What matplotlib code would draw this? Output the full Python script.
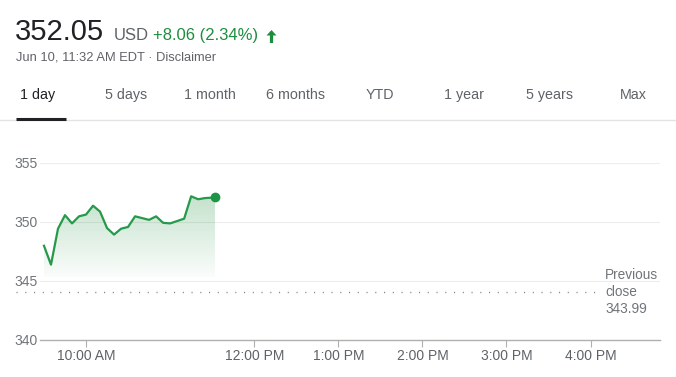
#!/usr/bin/env python3
"""
Intraday price chart, Google-finance style card (1 day view).
"""

import numpy as np
import matplotlib.pyplot as plt
from matplotlib.lines import Line2D
from matplotlib.patches import Polygon
from matplotlib.transforms import IdentityTransform

plt.rcParams['font.family'] = ['Liberation Sans', 'DejaVu Sans']

# Data
times = ['09:30', '09:35', '09:40', '09:45', '09:50', '09:55', '10:00', '10:05',
         '10:10', '10:15', '10:20', '10:25', '10:30', '10:35', '10:40', '10:45',
         '10:50', '10:55', '11:00', '11:05', '11:10', '11:15', '11:20', '11:25',
         '11:32']
prices = [347.95, 346.35, 349.40, 350.55, 349.85, 350.45, 350.60, 351.35,
          350.85, 349.45, 348.90, 349.40, 349.55, 350.45, 350.30, 350.15,
          350.45, 349.90, 349.85, 350.05, 350.25, 352.15, 351.90, 352.00,
          352.05]
prev_close = 343.99
y_ticks = [340, 345, 350, 355]
x_tick_hours = [10, 12, 13, 14, 15, 16]
x_tick_labels = ['10:00 AM', '12:00 PM', '1:00 PM', '2:00 PM', '3:00 PM', '4:00 PM']
tabs = ['1 day', '5 days', '1 month', '6 months', 'YTD', '1 year', '5 years', 'Max']

price_now = '352.05'
change = '+8.06 (2.34%)'
stamp = 'Jun 10, 11:32 AM EDT · Disclaimer'


def to_hours(t):
    h, m = t.split(':')
    return int(h) + int(m) / 60.0


def main():
    green = '#1e8e3e'
    gray = '#5f6368'
    W, H = 676, 377
    fig = plt.figure(figsize=(W / 100, H / 100), dpi=100)
    fig.patch.set_facecolor('white')

    def fx(px):
        return px / W

    def fy(py):
        return 1 - py / H

    # Header
    fig.text(fx(15), fy(40), price_now, fontsize=21, color='#202124', va='baseline')
    fig.text(fx(114), fy(40), 'USD', fontsize=12, color=gray, va='baseline')
    fig.text(fx(153), fy(40), change, fontsize=12, color=green, va='baseline')

    # filled up-arrow (pixel coordinates, origin bottom-left)
    ax_c, top, bot = 271.5, H - 30, H - 43
    arrow = [(ax_c, top), (ax_c + 5, top - 5.5), (ax_c + 1.6, top - 5.5),
             (ax_c + 1.6, bot), (ax_c - 1.6, bot), (ax_c - 1.6, top - 5.5),
             (ax_c - 5, top - 5.5)]
    fig.add_artist(Polygon(arrow, closed=True, facecolor=green, edgecolor='none',
                           transform=IdentityTransform()))

    fig.text(fx(16), fy(61), stamp, fontsize=9.3, color=gray, va='baseline')

    # Tabs
    tab_centers = [38, 126, 210, 295, 380, 464, 549, 633]
    for name, cx in zip(tabs, tab_centers):
        fig.text(fx(cx), fy(95), name, fontsize=10.3, ha='center', va='center',
                 color='#202124' if name == '1 day' else gray)
    fig.add_artist(Line2D([0, 1], [fy(120), fy(120)], color='#e3e3e3', lw=1))
    fig.add_artist(Line2D([fx(16), fx(66)], [fy(118.5), fy(118.5)],
                          color='#202124', lw=2.2, solid_capstyle='butt'))

    # Chart
    ax = fig.add_axes([fx(40), fy(339.5), fx(660) - fx(40), fy(162.7) - fy(339.5)])
    x = np.array([to_hours(t) for t in times])
    y = np.array(prices)

    x0 = 9.5 - 4 / 84.5
    x1 = 9.5 + 619 / 84.5
    ax.set_xlim(x0, x1)
    ax.set_ylim(340, 355)

    for v in y_ticks[1:]:
        ax.axhline(v, color='#ededed', lw=0.8, zorder=0)

    # gradient fill under the line
    base = 345.3
    verts = [(x[0], base)] + list(zip(x, y)) + [(x[-1], base)]
    poly = Polygon(verts, closed=True, facecolor='none', edgecolor='none')
    ax.add_patch(poly)
    grad = np.linspace(0.26, 0.02, 256).reshape(-1, 1)
    rgba = np.zeros((256, 1, 4))
    rgba[..., 0] = 0x1e / 255
    rgba[..., 1] = 0x8e / 255
    rgba[..., 2] = 0x3e / 255
    rgba[..., 3] = grad
    im = ax.imshow(rgba, extent=[x[0], x[-1], base, y.max()], aspect='auto',
                   origin='upper', zorder=1)
    im.set_clip_path(poly)

    ax.plot(x, y, color='#26994a', lw=1.6, zorder=3, solid_joinstyle='round')
    ax.plot(x[-1], y[-1], 'o', color='#1e9448', markersize=6, zorder=4)

    # previous close
    ax.axhline(prev_close, xmin=-0.0387, xmax=0.9, color='#888888', lw=1,
               linestyle=(0, (0.8, 5.5)), clip_on=False, zorder=2)
    ax.text(1.0 - 55 / 620, prev_close + 0.05, 'Previous\nclose\n343.99',
            transform=ax.get_yaxis_transform(), fontsize=9.8, color='#70757a',
            va='center', ha='left', linespacing=1.3)

    for s in ['top', 'right', 'left']:
        ax.spines[s].set_visible(False)
    ax.spines['bottom'].set_color('#b0b0b0')
    ax.spines['bottom'].set_linewidth(1)

    ax.set_yticks(y_ticks)
    ax.set_yticklabels([str(v) for v in y_ticks])
    ax.tick_params(axis='y', length=0, pad=2, labelsize=10, labelcolor='#70757a')
    ax.set_xticks(x_tick_hours)
    ax.set_xticklabels(x_tick_labels)
    ax.tick_params(axis='x', length=5, width=0.8, color='#b0b0b0', pad=2,
                   labelsize=10, labelcolor='#5f6368')
    ax.patch.set_alpha(0)

    plt.savefig('out.png', dpi=100)
    plt.close()


if __name__ == '__main__':
    main()
